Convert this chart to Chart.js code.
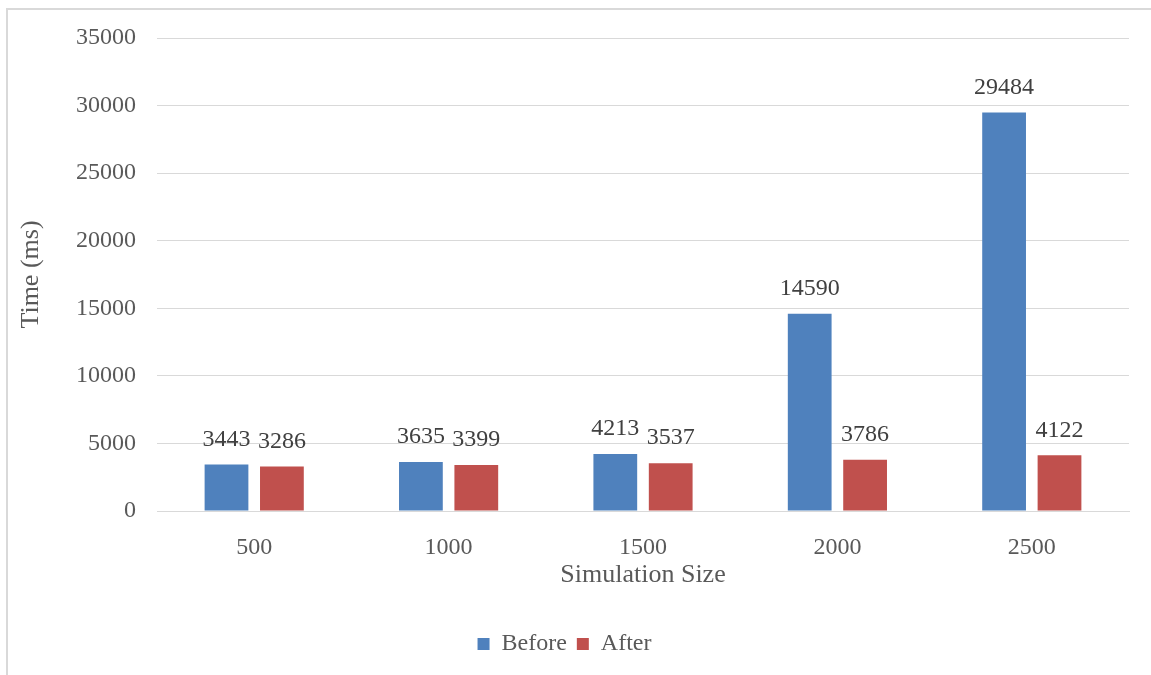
<!DOCTYPE html>
<html>
<head>
<meta charset="utf-8">
<title>Simulation time</title>
<script src="https://cdn.jsdelivr.net/npm/chart.js@4.4.0/dist/chart.umd.min.js"></script>
<style>
  body { margin: 0; background: #fff; }
  canvas { display: block; }
</style>
</head>
<body>
<canvas id="myChart" width="1151" height="675"></canvas>
<script>
var sizes = ['500', '1000', '1500', '2000', '2500'];
var before = [3443, 3635, 4213, 14590, 29484];
var after = [3286, 3399, 3537, 3786, 4122];

var textColor = '#595959';
var font = 'Liberation Serif, Times New Roman, serif';

// frame around the whole chart (top and left edges)
var framePlugin = {
    id: 'frame',
    beforeDraw: function(chart) {
        var ctx = chart.ctx;
        ctx.save();
        ctx.strokeStyle = '#d9d9d9';
        ctx.lineWidth = 2;
        ctx.beginPath();
        ctx.moveTo(7, chart.height);
        ctx.lineTo(7, 9);
        ctx.lineTo(chart.width, 9);
        ctx.stroke();
        ctx.restore();
    }
};

// value written over each bar
var valuePlugin = {
    id: 'values',
    afterDatasetsDraw: function(chart) {
        var ctx = chart.ctx;
        ctx.save();
        ctx.font = '24px ' + font;
        ctx.fillStyle = '#404040';
        ctx.textAlign = 'center';
        ctx.textBaseline = 'middle';
        chart.data.datasets.forEach(function(ds, i) {
            chart.getDatasetMeta(i).data.forEach(function(bar, j) {
                ctx.fillText(ds.data[j], bar.x, bar.y - 25);
            });
        });
        ctx.restore();
    }
};

var config = {
    type: 'bar',
    data: {
        labels: sizes,
        datasets: [{
            label: 'Before',
            data: before,
            backgroundColor: '#4f81bd',
            categoryPercentage: 0.57,
            barPercentage: 0.79
        }, {
            label: 'After',
            data: after,
            backgroundColor: '#c0504d',
            categoryPercentage: 0.57,
            barPercentage: 0.79
        }]
    },
    options: {
        responsive: false,
        animation: false,
        layout: {
            padding: { top: 38, right: 22, bottom: 9, left: 0 }
        },
        plugins: {
            legend: {
                position: 'bottom',
                labels: {
                    boxWidth: 12,
                    boxHeight: 12,
                    padding: 10,
                    color: textColor,
                    font: { family: font, size: 24 }
                }
            },
            tooltip: { enabled: false }
        },
        scales: {
            x: {
                grid: { display: false },
                border: { color: '#d9d9d9' },
                ticks: {
                    color: textColor,
                    padding: 14,
                    font: { family: font, size: 24 }
                },
                title: {
                    display: true,
                    text: 'Simulation Size',
                    color: textColor,
                    padding: { top: 0, bottom: 31 },
                    font: { family: font, size: 26 }
                },
                afterFit: function(scale) { scale.height = 111; }
            },
            y: {
                min: 0,
                max: 35000,
                grid: { color: '#d9d9d9', drawTicks: false },
                border: { display: false },
                ticks: {
                    stepSize: 5000,
                    color: textColor,
                    padding: 21,
                    font: { family: font, size: 24 },
                    callback: function(value) { return String(value); }
                },
                title: {
                    display: true,
                    text: 'Time (ms)',
                    color: textColor,
                    padding: { top: 16, bottom: 0 },
                    font: { family: font, size: 26 }
                },
                afterFit: function(scale) { scale.width = 157; }
            }
        }
    },
    plugins: [framePlugin, valuePlugin]
};

window.addEventListener('DOMContentLoaded', function() {
    var ctx = document.getElementById('myChart').getContext('2d');
    window.myBar = new Chart(ctx, config);
});
</script>
</body>
</html>
